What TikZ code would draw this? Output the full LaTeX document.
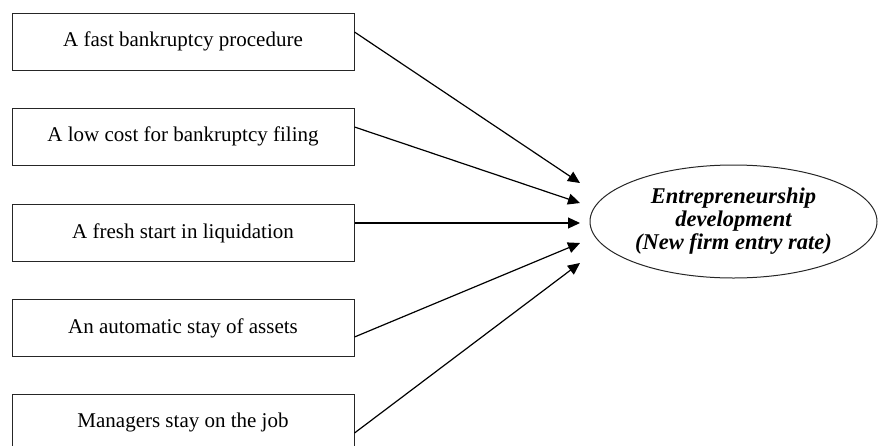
\documentclass[tikz,border=0pt]{standalone}
\usepackage{fontspec}
\setmainfont{Liberation Serif}
\usetikzlibrary{arrows.meta,shapes.geometric}
\begin{document}
\begin{tikzpicture}[x=1pt,y=-1pt,
  factor/.style={draw=black!85,line width=1pt,minimum width=342pt,minimum height=57pt,inner sep=0pt,
    font=\fontsize{21}{24}\selectfont},
  outcome/.style={draw=black!85,line width=1pt,ellipse,minimum width=287pt,minimum height=113pt,inner sep=0pt,
    font=\fontsize{22.5}{23}\selectfont\bfseries\itshape,align=center},
  link/.style={line width=1.2pt,-{Triangle[length=12pt,width=11pt]}}]
\clip (0,0) rectangle (879,445);
\node[factor] (b1) at (183,41.5) {A fast bankruptcy procedure};
\node[factor] (b2) at (183,136.5) {A low cost for bankruptcy filing};
\node[factor] (b3) at (183,233) {A fresh start in liquidation};
\node[factor] (b4) at (183,328) {An automatic stay of assets};
\node[factor] (b5) at (183,422.5) {Managers stay on the job};
\node[outcome] (e) at (733.5,221.5) {Entrepreneurship\\development\\(New firm entry rate)};
\coordinate (t1) at (580,183);
\coordinate (t2) at (580,203);
\coordinate (t3) at (580,223);
\coordinate (t4) at (580,243);
\coordinate (t5) at (580,263);
\draw[link] ([yshift=9.5pt]b1.east) -- (t1);
\draw[link] ([yshift=9.5pt]b2.east) -- (t2);
\draw[link] ([yshift=10pt]b3.east) -- (t3);
\draw[link] ([yshift=-9pt]b4.east) -- (t4);
\draw[link] ([yshift=-10.5pt]b5.east) -- (t5);
\end{tikzpicture}
\end{document}
